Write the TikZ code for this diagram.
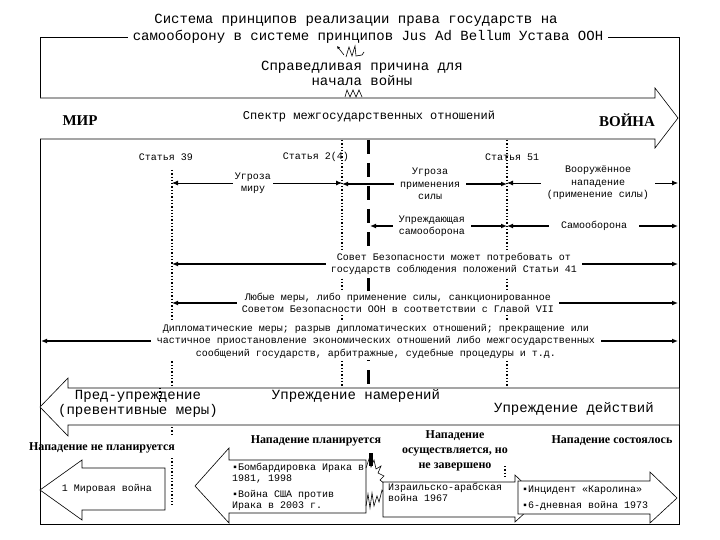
\documentclass[tikz,border=0pt]{standalone}
\usepackage{fontspec}
\setmainfont{Liberation Serif}
\setmonofont{Liberation Mono}
\usetikzlibrary{arrows.meta}
\begin{document}
\begin{tikzpicture}[x=1pt,y=-1pt,
  sm/.style={font=\ttfamily\fontsize{10}{12.5}\selectfont, align=center, inner sep=2pt, fill=white},
  lab/.style={font=\ttfamily\fontsize{10}{12.5}\selectfont, inner sep=1pt},
  big/.style={font=\ttfamily\fontsize{14}{15}\selectfont, align=center, inner sep=1pt},
  bl/.style={font=\bfseries\fontsize{12}{15}\selectfont, align=center, inner sep=1pt},
  arr/.style={-{Latex[length=6pt,width=5pt]}, line width=0.8pt},
  tarr/.style={-{Latex[length=6pt,width=5pt]}, line width=1.6pt},
  vdot/.style={line width=1.3pt, dotted},
  blk/.style={draw, line width=0.6pt, fill=white},
  lft/.style={font=\ttfamily\fontsize{10}{11}\selectfont, align=left, inner sep=0pt, anchor=north west}]
\useasboundingbox (0,0) rectangle (720,540);
% frame
\draw[line width=0.8pt] (40,37) rectangle (679,524);
% title
\node[big, fill=white, inner xsep=5pt] (t2) at (368,37) {самооборону в системе принципов Jus Ad Bellum Устава ООН};
\node[big] (t1) at (356,20) {Система принципов реализации права государств на};
% squiggles
\draw[line width=0.6pt, {Latex[length=3pt,width=3pt]}-] (337,46) -- (344,55);
\draw[line width=0.6pt] (346,57) -- (349,47) -- (352,56) -- (355,46) -- (356,56) -- (362,55) -- (364,52);
\node[big] (sp) at (362,73) {Справедливая причина для\\начала войны};
\draw[line width=0.6pt] (345,97) -- (347,90) -- (350,97) -- (353,90) -- (356,97) -- (359,90) -- (362,97);
% big right arrow
\draw[blk] (40,98) -- (655,98) -- (655,88) -- (678,118) -- (655,148) -- (655,139) -- (40,139);
\node[font=\bfseries\fontsize{15}{15}\selectfont] (mir) at (80,121) {МИР};
\node[font=\bfseries\fontsize{15}{15}\selectfont] (voy) at (627,120) {ВОЙНА};
\node[font=\ttfamily\fontsize{12}{13}\selectfont] (spk) at (369,116) {Спектр межгосударственных отношений};
% verticals
\coordinate (v39t) at (172,170);
\coordinate (v39b) at (172,388);
\coordinate (v24t) at (342,140);
\coordinate (v24b) at (342,388);
\coordinate (vdt) at (368,140);
\coordinate (vdb) at (368,384);
\coordinate (v51t) at (507,140);
\coordinate (v51b) at (507,388);
\draw[vdot] (v39t) -- (v39b);
\draw[vdot] (v24t) -- (v24b);
\draw[vdot] (v51t) -- (v51b);
\draw[line width=3pt, dash pattern=on 14pt off 9pt] (vdt) -- (vdb);
% articles
\node[lab] (a39) at (166,157) {Статья 39};
\node[lab] (a24) at (316,157) {Статья 2(4)};
\node[lab] (a51) at (512,157) {Статья 51};
% row 1
\node[sm] (um) at (253,183) {Угроза\\миру};
\draw[arr] (um) -- (172,183);
\draw[arr] (um) -- (342,183);
\node[sm, inner xsep=6pt] (ups) at (430,184) {Угроза\\применения\\силы};
\draw[tarr] (ups) -- (342,184);
\draw[tarr] (ups) -- (507,184);
\node[sm, inner xsep=6pt] (vn) at (598,183) {Вооружённое\\нападение\\(применение силы)};
\draw[arr] (vn) -- (507,183);
\draw[arr] (vn) -- (678,183);
% row 2
\node[sm, inner xsep=6pt] (us) at (432,226) {Упреждающая\\самооборона};
\draw[tarr] (us) -- (370,226);
\draw[tarr] (us) -- (507,226);
\node[sm, inner xsep=12pt] (so) at (594,226) {Самооборона};
\draw[tarr] (so) -- (507,226);
\draw[tarr] (so) -- (678,226);
% row 3
\node[sm, inner xsep=5pt] (sb) at (454,264) {Совет Безопасности может потребовать от\\государств соблюдения положений Статьи 41};
\draw[tarr] (sb) -- (172,264);
\draw[tarr] (sb) -- (678,264);
% row 4
\node[sm, inner xsep=5pt] (lm) at (398,303) {Любые меры, либо применение силы, санкционированное\\Советом Безопасности ООН в соответствии с Главой VII};
\draw[tarr] (lm) -- (172,303);
\draw[tarr] (lm) -- (678,303);
% row 5
\node[sm, inner xsep=6pt] (dm) at (376,341) {Дипломатические меры; разрыв дипломатических отношений; прекращение или\\частичное приостановление экономических отношений либо межгосударственных\\сообщений государств, арбитражные, судебные процедуры и т.д.};
\draw[tarr] (dm) -- (41,341);
\draw[tarr] (dm) -- (678,341);
% bottom band
\draw[blk] (679,388) -- (68,388) -- (68,378) -- (40,407) -- (68,436) -- (68,425) -- (679,425);
\draw[vdot] (160,388) -- (160,402);
\node[big, inner sep=0pt] (pu) at (138,404) {Пред-упреждение\\(превентивные меры)};
\node[big] (un) at (356,396) {Упреждение намерений};
\node[big] (ud) at (574,409) {Упреждение действий};
% bottom labels
\node[bl] (nnp) at (102,448) {Нападение не планируется};
\node[bl] (np) at (316,441) {Нападение планируется};
\node[bl] (no) at (455,451) {Нападение\\осуществляется, но\\не завершено};
\node[bl] (ns) at (612,441) {Нападение состоялось};
% dotted bits
\draw[vdot] (172,427) -- (172,436);
\draw[vdot] (172,458) -- (172,505);
\draw[vdot] (505,466) -- (505,476);
% WWI arrow
\draw[blk] (165,468) -- (82,468) -- (82,460) -- (40,490) -- (82,520) -- (82,510) -- (165,510) -- cycle;
\node[font=\ttfamily\fontsize{10}{12}\selectfont] (ww) at (107,489) {1 Мировая война};
% Iraq arrow
\draw[blk] (366,460) -- (229,460) -- (229,448) -- (195,486) -- (229,523) -- (229,513) -- (366,513) -- cycle;
\node[lft] (ir) at (232,463) {▪Бомбардировка Ирака в\\1981, 1998\\[5pt]▪Война США против\\Ирака в 2003 г.};
% explosion
\fill (369,453) rectangle (373,466);
\draw[line width=0.6pt] (366,468) -- (369,459) -- (371,467) -- (374,460) -- (376,469) -- (381,466) -- (378,473) -- (384,476) -- (380,480) -- (385,484);
\draw[line width=0.6pt] (366,506) -- (368,494) -- (370,508) -- (372,493) -- (374,506) -- (377,496) -- (379,502) -- (382,490) -- (385,495);
% Israel arrow
\draw[blk] (383,482) -- (515,482) -- (515,475) -- (540,499) -- (515,522) -- (515,517) -- (383,517) -- cycle;
\node[lft] (is) at (388,483) {Израильско-арабская\\война 1967};
% Karolina arrow
\draw[blk] (518,481) -- (650,481) -- (650,472) -- (677,498) -- (650,523) -- (650,514) -- (518,514) -- cycle;
\node[lft, font=\ttfamily\fontsize{10}{16}\selectfont] (ka) at (522,486) {▪Инцидент «Каролина»\\▪6-дневная война 1973};
\end{tikzpicture}
\end{document}
